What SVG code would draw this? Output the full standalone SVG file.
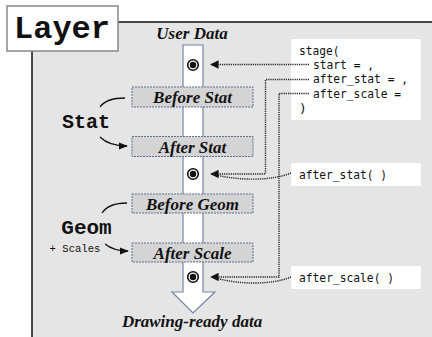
<svg xmlns="http://www.w3.org/2000/svg" width="432" height="337" viewBox="0 0 432 337">
<defs>
<style>
.stage{fill:#d4d4d4;stroke:#5f6f8f;stroke-width:1;stroke-dasharray:2 1}
.lbl{font-family:"Liberation Serif",serif;font-weight:bold;font-style:italic;font-size:17px;text-anchor:middle;fill:#111}
.code{font-family:"DejaVu Sans Mono",monospace;font-size:12.8px;fill:#111}
.big{font-family:"Liberation Mono",monospace;font-weight:bold;fill:#111}
.small{font-family:"Liberation Mono",monospace;font-size:10.6px;fill:#111}
.dot{fill:none;stroke:#222;stroke-width:1.4;stroke-dasharray:1.2 1}
.curve{fill:none;stroke:#111;stroke-width:1.3}
</style>
<marker id="ah" viewBox="0 0 10 10" refX="9" refY="5" markerWidth="6" markerHeight="6" orient="auto">
<path d="M0,0 L10,5 L0,10 z" fill="#111"/>
</marker>
<marker id="ah2" viewBox="0 0 10 10" refX="9" refY="5" markerWidth="7" markerHeight="7" orient="auto">
<path d="M0,1 L10,5 L0,9 z" fill="#111"/>
</marker>
</defs>
<rect x="32" y="22" width="420" height="330" fill="#e5e5e5" stroke="#111" stroke-width="1.5"/>
<g id="title">
<rect x="7" y="6" width="111" height="45" fill="#fff" stroke="#888" stroke-width="1.5"/>
<text class="big" x="62" y="38" font-size="32" text-anchor="middle">Layer</text>
</g>
<g id="flow">
<path d="M183,45 H203 V292 H215 L193,313 L172,292 H183 Z" fill="#fff" stroke="#7585a3" stroke-width="1.2"/>
<text class="lbl" x="192" y="39" font-size="13">User Data</text>
<text class="lbl" x="192" y="327" font-size="15.5">Drawing-ready data</text>
</g>
<g id="pt-start"><circle cx="193" cy="65" r="5.3" fill="#fff" stroke="#111" stroke-width="1.6"/><circle cx="193" cy="65" r="3.2" fill="#111"/></g>
<g id="pt-stat"><circle cx="193" cy="174" r="5.3" fill="#fff" stroke="#111" stroke-width="1.6"/><circle cx="193" cy="174" r="3.2" fill="#111"/></g>
<g id="pt-scale"><circle cx="193" cy="277" r="5.3" fill="#fff" stroke="#111" stroke-width="1.6"/><circle cx="193" cy="277" r="3.2" fill="#111"/></g>
<g id="before-stat"><rect class="stage" x="132" y="87" width="121" height="20"/><text class="lbl" x="192.5" y="103">Before Stat</text></g>
<g id="after-stat"><rect class="stage" x="132" y="136.5" width="121" height="20"/><text class="lbl" x="192.5" y="152.5">After Stat</text></g>
<g id="before-geom"><rect class="stage" x="132" y="194" width="121" height="19"/><text class="lbl" x="192.5" y="209.5">Before Geom</text></g>
<g id="after-scale"><rect class="stage" x="132" y="243" width="121" height="19"/><text class="lbl" x="192.5" y="258.5">After Scale</text></g>
<g id="stat"><text class="big" x="86" y="128" font-size="20" text-anchor="middle">Stat</text></g>
<g id="geom"><text class="big" x="86.5" y="234" font-size="21" text-anchor="middle">Geom</text>
<text class="small" x="75" y="252" text-anchor="middle">+ Scales</text></g>
<g id="stage-call">
<rect x="291" y="39" width="130" height="81" fill="#fff"/>
<text class="code" x="299" y="55" textLength="40.5" lengthAdjust="spacingAndGlyphs">stage(</text>
<text class="code" x="313" y="68.5" textLength="61" lengthAdjust="spacingAndGlyphs">start = ,</text>
<text class="code" x="313" y="83" textLength="95" lengthAdjust="spacingAndGlyphs">after_stat = ,</text>
<text class="code" x="313" y="97.5" textLength="88" lengthAdjust="spacingAndGlyphs">after_scale =</text>
<text class="code" x="299" y="112">)</text>
</g>
<g id="after-stat-call"><rect x="291" y="163" width="130" height="23" fill="#fff"/><text class="code" x="299" y="179" textLength="88" lengthAdjust="spacingAndGlyphs">after_stat( )</text></g>
<g id="after-scale-call"><rect x="291" y="266" width="130" height="23" fill="#fff"/><text class="code" x="299" y="282" textLength="95" lengthAdjust="spacingAndGlyphs">after_scale( )</text></g>
<g id="connectors">
<path class="curve" d="M100,107 C104,101 112,98 125,98"/>
<path class="curve" d="M100,137 C105,142 112,146 127,146" marker-end="url(#ah2)"/>
<path class="curve" d="M102,213 C106,207 114,203 127,203"/>
<path class="curve" d="M105,244 C110,248 116,251 128,251" marker-end="url(#ah2)"/>
<path class="dot" d="M309,64.5 H211" marker-end="url(#ah)"/>
<path class="dot" d="M309,79.5 H265.5 V174 H211" marker-end="url(#ah)"/>
<path class="dot" d="M291,173 C272,181 238,181 212,174"/>
<path class="dot" d="M309,93.5 H279 V277 H211" marker-end="url(#ah)"/>
<path class="dot" d="M291,277 C272,285 238,285 212,277"/>
</g>
</svg>
